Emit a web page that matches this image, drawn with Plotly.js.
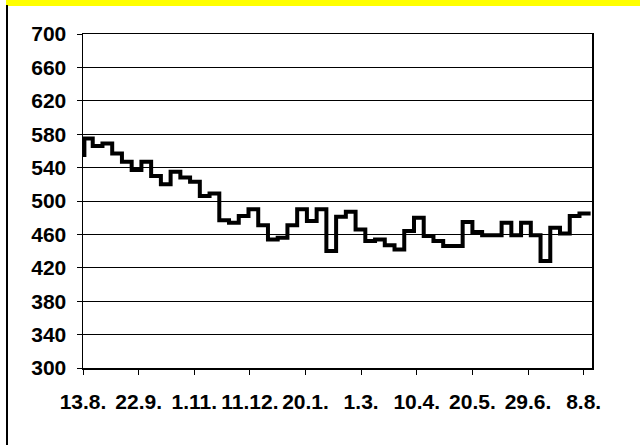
<!DOCTYPE html>
<html>
<head>
<meta charset="utf-8">
<script src="https://cdn.plot.ly/plotly-3.0.1.min.js"></script>
<style>html,body{margin:0;padding:0;background:#fff;}#chart{width:640px;height:445px;}</style>
</head>
<body>
<div id="chart"></div>
<script>
// Days counted from 13.8. (weekly readings)
var days = [0, 1, 7, 14, 21, 28, 35, 42, 49, 56, 63, 70, 77, 84, 91, 98, 105, 112, 119, 126,
  133, 140, 147, 154, 161, 168, 175, 182, 189, 196, 203, 210, 217, 224, 231, 238, 245, 252,
  259, 266, 273, 280, 287, 294, 301, 308, 315, 322, 329, 336, 343, 350, 357, 365];
var values = [555, 575, 566, 569, 557, 547, 537, 547, 530, 520, 535, 528, 523, 506, 509, 477,
  474, 482, 490, 471, 454, 456, 471, 490, 476, 490, 440, 481, 487, 466, 452, 454, 447, 442,
  464, 480, 458, 452, 446, 446, 475, 463, 459, 459, 474, 459, 474, 459, 428, 468, 461, 482,
  485, 485];
var tickDays = [0, 40, 80, 120, 160, 200, 240, 280, 320, 360];
var tickLabels = ["13.8.", "22.9.", "1.11.", "11.12.", "20.1.", "1.3.", "10.4.", "20.5.", "29.6.", "8.8."];
var yTicks = [300, 340, 380, 420, 460, 500, 540, 580, 620, 660, 700];

var W = 640, H = 445, L = 83, R = 48, T = 34, B = 77;
var pw = W - L - R, ph = H - T - B;
function px(x) { return (x - L) / pw; }
function py(y) { return 1 - (y - T) / ph; }

var tickFont = {family: "Liberation Sans, Arial, sans-serif", size: 21, color: "#000", weight: "bold"};

Plotly.newPlot("chart", [{
  x: days, y: values, type: "scatter", mode: "lines",
  line: {color: "#000", width: 4, shape: "hv"},
  hoverinfo: "skip"
}], {
  width: W, height: H,
  margin: {l: L, r: R, t: T, b: B, pad: 0},
  paper_bgcolor: "#fff", plot_bgcolor: "#fff",
  showlegend: false,
  xaxis: {
    range: [0, 366], tickmode: "array", tickvals: tickDays, ticktext: tickLabels,
    ticks: "outside", ticklen: 5, tickwidth: 1, tickcolor: "#000", tickangle: 0,
    showgrid: false, zeroline: false,
    showline: true, linecolor: "#000", linewidth: 1.5, mirror: true,
    tickfont: tickFont, ticklabelstandoff: 9
  },
  yaxis: {
    range: [300, 700], tickmode: "array", tickvals: yTicks,
    ticks: "outside", ticklen: 5, tickwidth: 1, tickcolor: "#000",
    showgrid: true, gridcolor: "#000", gridwidth: 1, zeroline: false,
    showline: true, linecolor: "#000", linewidth: 1.5, mirror: true,
    tickfont: tickFont, ticklabelstandoff: 6
  },
  shapes: [
    {type: "rect", xref: "paper", yref: "paper", x0: px(6), x1: px(641), y0: py(6), y1: py(-1),
     fillcolor: "#ffff00", line: {width: 0}, layer: "below"},
    {type: "line", xref: "paper", yref: "paper", x0: px(7), x1: px(7), y0: py(5), y1: py(446),
     line: {color: "#000", width: 2}}
  ]
}, {displayModeBar: false, staticPlot: true});
</script>
</body>
</html>
